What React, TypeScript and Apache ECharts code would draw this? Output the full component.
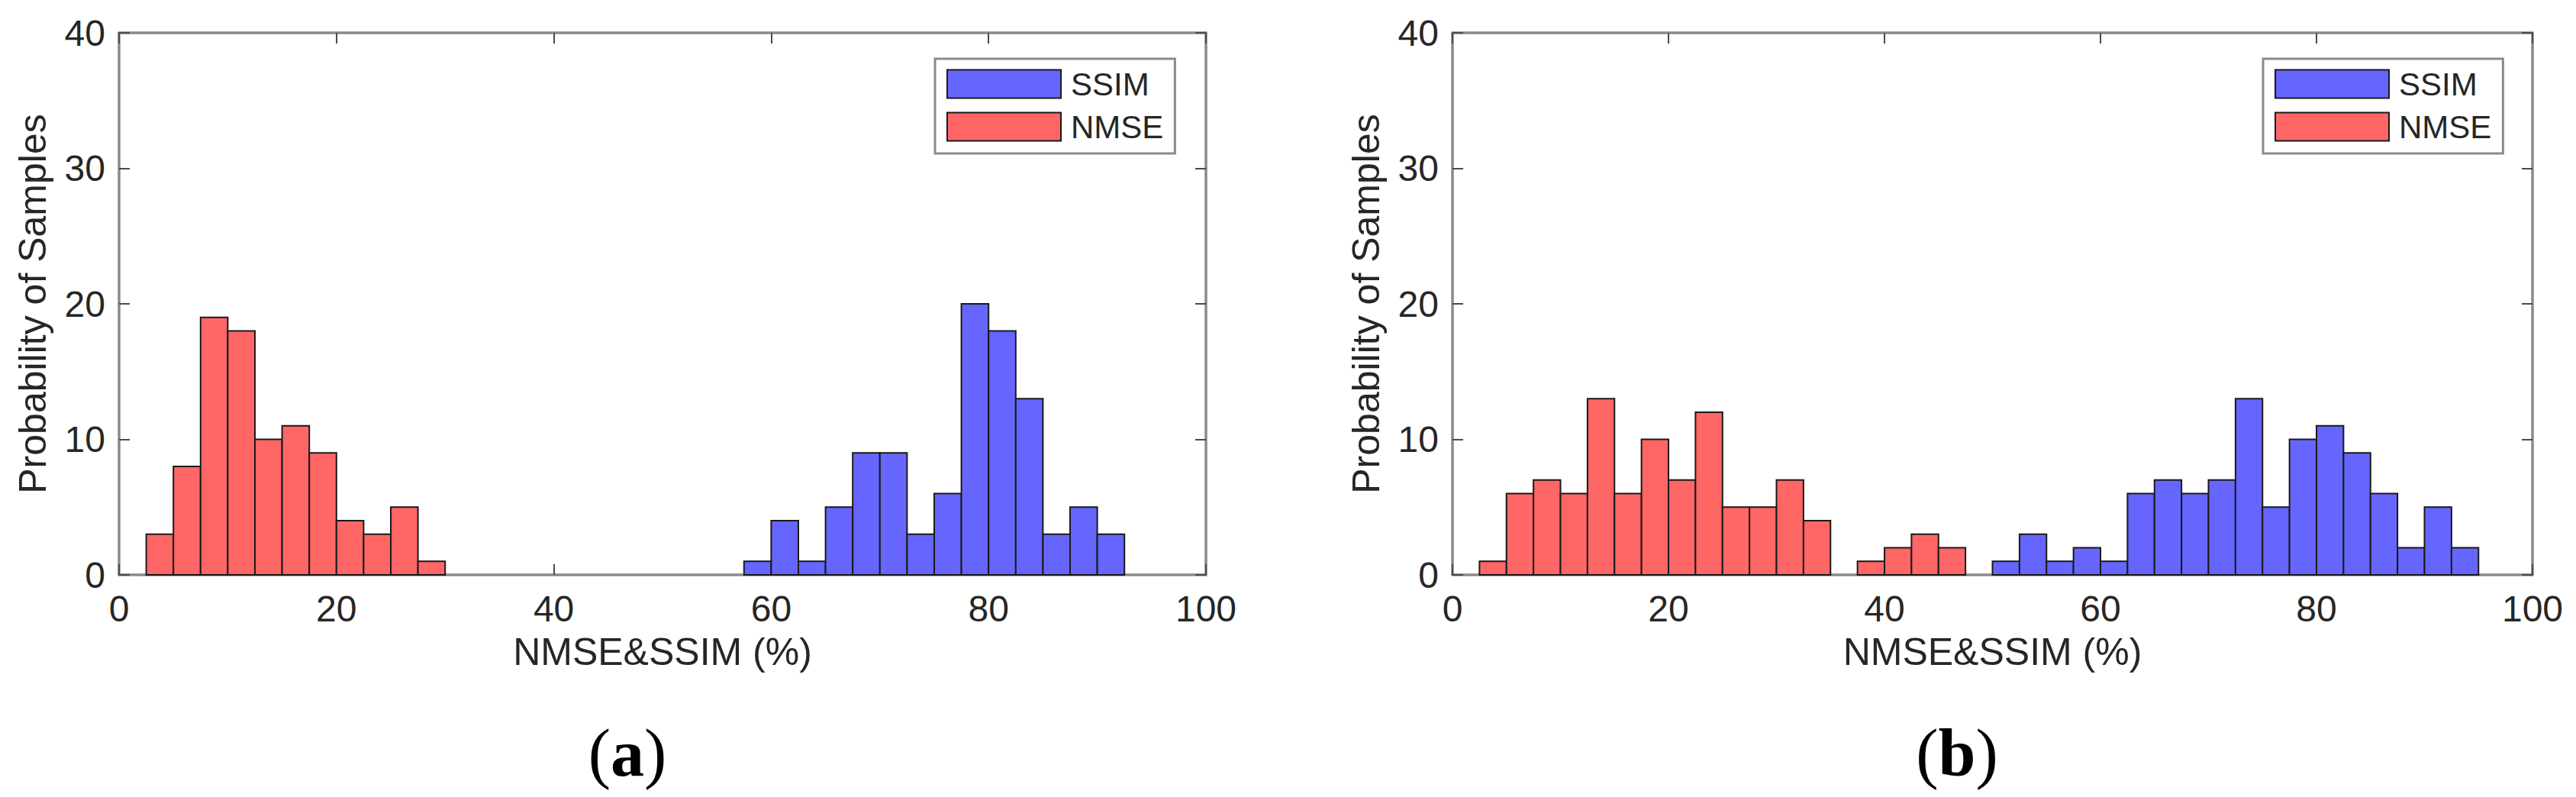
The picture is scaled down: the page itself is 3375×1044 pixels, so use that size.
import React, { useEffect, useRef } from 'react';
import * as echarts from 'echarts';

// histogram data (bin edges + counts)
const nmseEdgesA = [2.5, 5, 7.5, 10, 12.5, 15, 17.5, 20, 22.5, 25, 27.5, 30];
const nmseCountsA = [3, 8, 19, 18, 10, 11, 9, 4, 3, 5, 1];
const ssimEdgesA = [57.5, 60, 62.5, 65, 67.5, 70, 72.5, 75, 77.5, 80, 82.5, 85, 87.5, 90, 92.5];
const ssimCountsA = [1, 4, 1, 5, 9, 9, 3, 6, 20, 18, 13, 3, 5, 3];

const nmseEdgesB = [2.5, 5, 7.5, 10, 12.5, 15, 17.5, 20, 22.5, 25, 27.5, 30, 32.5, 35, 37.5, 40, 42.5, 45, 47.5];
const nmseCountsB = [1, 6, 7, 6, 13, 6, 10, 7, 12, 5, 5, 7, 4, 0, 1, 2, 3, 2];
const ssimEdgesB = [50, 52.5, 55, 57.5, 60, 62.5, 65, 67.5, 70, 72.5, 75, 77.5, 80, 82.5, 85, 87.5, 90, 92.5, 95];
const ssimCountsB = [1, 3, 1, 2, 1, 6, 7, 6, 7, 13, 5, 10, 11, 9, 6, 2, 5, 2];

const xTicks = [0, 20, 40, 60, 80, 100];
const yTicks = [0, 10, 20, 30, 40];
const panelLabels = ['a', 'b'];

const BLUE = '#6666ff';
const RED = '#ff6666';
const AXIS = '#8a8a8a';
const TXT = '#262626';
const FONT = '"Liberation Sans", Arial, sans-serif';

const toBins = (edges: number[], counts: number[]) =>
  counts.map((c, i) => [edges[i], edges[i + 1], c]).filter((d) => d[2] > 0);

function histSeries(name: string, color: string, edges: number[], counts: number[], idx: number) {
  return {
    type: 'custom',
    name,
    xAxisIndex: idx * 2,
    yAxisIndex: idx * 2,
    itemStyle: { color },
    encode: { x: [0, 1], y: 2 },
    data: toBins(edges, counts),
    renderItem: (params: any, api: any) => {
      const p0 = api.coord([api.value(0), 0]);
      const p1 = api.coord([api.value(1), api.value(2)]);
      return {
        type: 'rect',
        shape: { x: p0[0], y: p1[1], width: p1[0] - p0[0], height: p0[1] - p1[1] },
        style: { fill: color, stroke: '#1a1a1a', lineWidth: 2 },
      };
    },
  };
}

function App() {
  const chartRef = useRef(null);

  useEffect(() => {
    const chart = echarts.init(chartRef.current, null, { renderer: 'svg' });

    const grids = [
      { left: 156, top: 43, width: 1424, height: 710 },
      { left: 1903, top: 43, width: 1415, height: 710 },
    ];

    const lineStyle = { color: AXIS, width: 3.5 };
    const tickStyle = { color: '#4a4a4a', width: 2 };

    const xAxes: any[] = [];
    const yAxes: any[] = [];
    grids.forEach((g, i) => {
      const base = {
        gridIndex: i,
        type: 'value',
        min: xTicks[0],
        max: xTicks[xTicks.length - 1],
        interval: 20,
        splitLine: { show: false },
        axisLine: { show: true, onZero: false, lineStyle },
        axisTick: { show: true, inside: true, length: 14, lineStyle: tickStyle },
      };
      xAxes.push({
        ...base,
        position: 'bottom',
        axisLabel: { fontSize: 48, color: TXT, fontFamily: FONT, margin: 20 },
        name: 'NMSE&SSIM (%)',
        nameLocation: 'middle',
        nameGap: 76,
        nameTextStyle: { fontSize: 50, color: TXT, fontFamily: FONT },
      });
      xAxes.push({ ...base, position: 'top', axisLabel: { show: false } });

      const ybase = {
        gridIndex: i,
        type: 'value',
        min: yTicks[0],
        max: yTicks[yTicks.length - 1],
        interval: 10,
        splitLine: { show: false },
        axisLine: { show: true, onZero: false, lineStyle },
        axisTick: { show: true, inside: true, length: 14, lineStyle: tickStyle },
      };
      yAxes.push({
        ...ybase,
        position: 'left',
        axisLabel: { fontSize: 48, color: TXT, fontFamily: FONT, margin: 18 },
        name: 'Probability of Samples',
        nameLocation: 'middle',
        nameGap: 88,
        nameTextStyle: { fontSize: 50, color: TXT, fontFamily: FONT },
      });
      yAxes.push({ ...ybase, position: 'right', axisLabel: { show: false } });
    });

    const legendBase = {
      orient: 'vertical',
      top: 77,
      data: ['SSIM', 'NMSE'],
      icon: 'rect',
      itemWidth: 149,
      itemHeight: 37,
      itemGap: 14,
      padding: [12, 15, 14, 15],
      borderColor: AXIS,
      borderWidth: 3,
      backgroundColor: '#fff',
      selectedMode: false,
      itemStyle: { borderColor: '#1a1a1a', borderWidth: 2 },
      textStyle: { fontSize: 42, color: TXT, fontFamily: FONT, lineHeight: 37, padding: [0, 0, 0, 8] },
    };

    const options = {
      animation: false,
      grid: grids,
      xAxis: xAxes,
      yAxis: yAxes,
      legend: [
        { ...legendBase, left: 1225 },
        { ...legendBase, left: 2965 },
      ],
      graphic: panelLabels.map((l, i) => ({
        type: 'text',
        x: i === 0 ? 822 : 2564,
        y: 986,
        style: {
          text: `{p|(}{b|${l}})}`.replace('})}', '}{p|)}'),
          align: 'center',
          verticalAlign: 'middle',
          rich: {
            p: { fontSize: 88, fontFamily: '"Liberation Serif", serif', fill: '#000' },
            b: { fontSize: 88, fontFamily: '"Liberation Serif", serif', fontWeight: 'bold', fill: '#000' },
          },
        },
      })),
      series: [
        histSeries('SSIM', BLUE, ssimEdgesA, ssimCountsA, 0),
        histSeries('NMSE', RED, nmseEdgesA, nmseCountsA, 0),
        histSeries('SSIM', BLUE, ssimEdgesB, ssimCountsB, 1),
        histSeries('NMSE', RED, nmseEdgesB, nmseCountsB, 1),
      ],
    };

    chart.setOption(options);

    return () => {
      chart.dispose();
    };
  }, []);

  return (
    <div
      ref={chartRef}
      style={{ position: 'fixed', left: 0, top: 0, width: '3375px', height: '1044px', background: '#fff' }}
    ></div>
  );
}

export default App;
